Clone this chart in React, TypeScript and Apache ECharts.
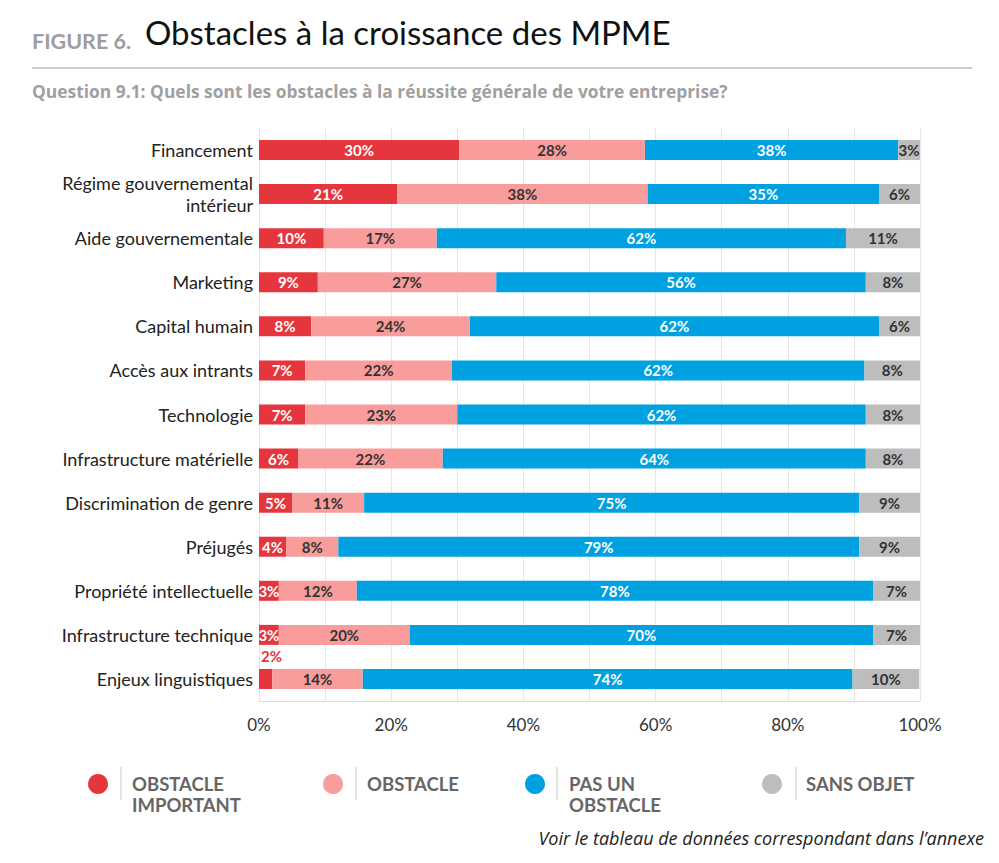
import React, { useEffect, useRef } from "react";
import * as echarts from "echarts";

const categories = [
  "Financement",
  "Régime gouvernemental\nintérieur",
  "Aide gouvernementale",
  "Marketing",
  "Capital humain",
  "Accès aux intrants",
  "Technologie",
  "Infrastructure matérielle",
  "Discrimination de genre",
  "Préjugés",
  "Propriété intellectuelle",
  "Infrastructure technique",
  "Enjeux linguistiques",
];

const obstacleImportant = [30.3, 20.9, 9.8, 8.9, 7.9, 7.0, 7.0, 5.9, 5.0, 4.1, 3.0, 3.0, 2.0];
const obstacle = [28.1, 37.9, 17.1, 27.0, 24.0, 22.2, 23.0, 21.9, 10.9, 7.9, 11.8, 19.8, 13.7];
const pasUnObstacle = [38.3, 35.0, 61.9, 55.9, 61.9, 62.4, 61.8, 64.0, 74.9, 78.8, 78.1, 70.1, 74.1];
const sansObjet = [3.3, 6.2, 11.2, 8.2, 6.2, 8.4, 8.2, 8.2, 9.2, 9.2, 7.1, 7.1, 10.1];

const seriesNames = ["OBSTACLE IMPORTANT", "OBSTACLE", "PAS UN OBSTACLE", "SANS OBJET"];
const legendLabels = ["OBSTACLE\nIMPORTANT", "OBSTACLE", "PAS UN\nOBSTACLE", "SANS OBJET"];
const seriesValues = [obstacleImportant, obstacle, pasUnObstacle, sansObjet];
const colors = ["#e4363c", "#f99c9c", "#00a1e1", "#bdbdbd"];
const labelColors = ["#ffffff", "#333333", "#ffffff", "#333333"];

const FONT = "Lato";
const WIDE = "Open Sans";

export default function App() {
  const ref = useRef<HTMLDivElement>(null);

  useEffect(() => {
    if (!ref.current) return;
    const chart = echarts.init(ref.current, null, { renderer: "svg" });

    const series = seriesValues.map((vals, si) => ({
      name: seriesNames[si],
      type: "bar",
      stack: "total",
      barWidth: 20,
      itemStyle: { color: colors[si] },
      label: {
        show: true,
        position: "inside",
        color: labelColors[si],
        fontFamily: FONT,
        fontWeight: "bold",
        fontSize: 15,
        formatter: (p: any) => Math.round(p.value) + "%",
      },
      data: vals.map((v) =>
        si === 0 && v < 2.5
          ? {
              value: v,
              label: { position: "top", color: colors[0], offset: [6, 0] },
            }
          : v
      ),
    }));

    const legendLeft = [88, 323, 525, 762];
    const legends = seriesNames.map((name, i) => {
      const twoLine = legendLabels[i].includes("\n");
      return {
        data: [name],
        left: legendLeft[i],
        top: twoLine ? 752.5 : 773.5,
        padding: 0,
        icon: "circle",
        itemWidth: 20,
        itemHeight: 20,
        formatter: () => (twoLine ? "\n" + legendLabels[i] : legendLabels[i]),
        textStyle: {
          fontFamily: FONT,
          fontWeight: "bold",
          fontSize: 18.5,
          color: "#666666",
          lineHeight: 21,
          padding: [0, 0, 0, 19],
        },
      };
    });

    const option: any = {
      animation: false,
      backgroundColor: "#ffffff",
      title: [
        {
          text: "FIGURE 6.",
          left: 32,
          top: 30,
          padding: 0,
          textStyle: { fontFamily: FONT, fontSize: 21.5, fontWeight: "bold", color: "#9d9d9d" },
        },
        {
          text: "Obstacles à la croissance des MPME",
          left: 145,
          top: 15,
          padding: 0,
          textStyle: { fontFamily: FONT, fontSize: 33, fontWeight: "normal", color: "#111111" },
        },
        {
          text: "Question 9.1: Quels sont les obstacles à la réussite générale de votre entreprise?",
          left: 32,
          top: 82,
          padding: 0,
          textStyle: { fontFamily: WIDE, fontSize: 17.4, fontWeight: "bold", color: "#a0a0a0" },
        },
        {
          text: "Voir le tableau de données correspondant dans l’annexe",
          right: 15,
          top: 829,
          padding: 0,
          textStyle: { fontFamily: WIDE, fontSize: 18, fontStyle: "italic", fontWeight: "normal", color: "#222222" },
        },
      ],
      legend: legends,
      grid: { left: 259, right: 79, top: 128, bottom: 162, containLabel: false },
      xAxis: {
        type: "value",
        min: 0,
        max: 100,
        interval: 10,
        axisLine: { show: true, lineStyle: { color: "#dddddd" } },
        axisTick: { show: false },
        splitLine: { show: true, lineStyle: { color: "#e6e6e6", width: 1 } },
        axisLabel: {
          interval: 1,
          formatter: (v: number) => (v % 20 === 0 ? v + "%" : ""),
          fontFamily: FONT,
          fontSize: 17,
          color: "#333333",
          margin: 15,
        },
      },
      yAxis: {
        type: "category",
        inverse: true,
        data: categories,
        axisLine: { show: false },
        axisTick: { show: false },
        axisLabel: {
          fontFamily: FONT,
          fontSize: 18,
          color: "#222222",
          lineHeight: 22,
          margin: 6,
          align: "right",
        },
      },
      graphic: [
        {
          type: "line",
          shape: { x1: 32, y1: 68, x2: 972, y2: 68 },
          style: { stroke: "#9a9a9a", lineWidth: 1 },
        },
        ...[121, 356, 557, 796].map((x) => ({
          type: "line",
          shape: { x1: x, y1: 767, x2: x, y2: 800 },
          style: { stroke: "#c8c8c8", lineWidth: 1 },
        })),
      ],
      series,
    };

    chart.setOption(option);
    return () => chart.dispose();
  }, []);

  return (
    <div
      ref={ref}
      style={{ position: "absolute", left: 0, top: 0, width: 999, height: 863 }}
    />
  );
}
